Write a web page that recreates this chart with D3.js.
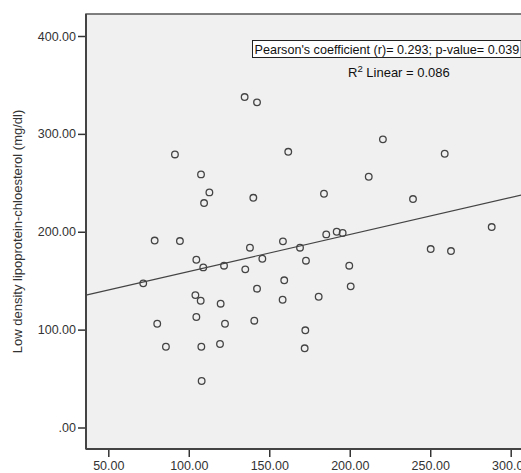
<!DOCTYPE html>
<html>
<head>
<meta charset="utf-8">
<script src="https://cdn.jsdelivr.net/npm/d3@7"></script>
<style>
  body { margin: 0; background: #fff; }
  svg text { font-family: "Liberation Sans", Arial, sans-serif; }
</style>
</head>
<body>
<div id="chart"></div>
<script>
// values
const cholesterolX = [91.4, 107.6, 112.8, 109.5, 78.8, 94.5, 134.7, 142.4, 161.8, 140.1,
  184.0, 211.8, 220.6, 185.4, 191.9, 195.6, 259.0, 239.3, 288.2, 104.7,
  109.0, 121.9, 71.7, 104.1, 107.4, 119.8, 104.7, 80.4, 122.5, 85.8,
  107.8, 119.4, 108.0, 138.0, 158.5, 169.1, 145.7, 135.1, 172.8, 199.7,
  159.3, 142.4, 200.6, 158.3, 180.7, 140.7, 172.4, 172.0, 250.3, 262.9];
const ldlY = [279.0, 258.6, 240.2, 229.3, 191.0, 190.5, 337.6, 332.2, 281.7, 234.7,
  238.8, 256.2, 294.4, 197.3, 200.0, 198.7, 279.7, 233.4, 204.8, 171.4,
  163.6, 165.3, 147.3, 135.3, 129.5, 126.5, 112.9, 106.0, 106.0, 82.5,
  82.5, 85.3, 47.5, 183.7, 190.2, 183.7, 172.4, 161.6, 170.4, 165.3,
  150.4, 141.8, 144.2, 130.5, 133.6, 109.1, 99.3, 80.9, 182.3, 180.3];
const xTicks = [50, 100, 150, 200, 250, 300];
const yTicks = [0, 100, 200, 300, 400];
const fitLine = { intercept: 121.6, slope: 0.378 };
const yTitle = 'Low density lipoprotein-chloesterol (mg/dl)';
const statsText = "Pearson's coefficient (r)= 0.293; p-value= 0.039";

const width = 521, height = 473;
const svg = d3.select('#chart').append('svg')
  .attr('width', width).attr('height', height);

const plot = { left: 86, top: 14, right: 545, bottom: 449 };

const x = d3.scaleLinear().domain([50, 300]).range([108.3, 510.7]);
const y = d3.scaleLinear().domain([0, 400]).range([427.5, 36]);

svg.append('rect')
  .attr('x', plot.left).attr('y', plot.top)
  .attr('width', plot.right - plot.left).attr('height', plot.bottom - plot.top)
  .attr('fill', '#f0f0f0')
  .attr('stroke', '#555').attr('stroke-width', 1.5);

const fmt = d => d === 0 ? '.00' : d3.format('.2f')(d);

function styleAxis(g) {
  g.select('.domain').remove();
  g.selectAll('.tick line').attr('stroke', '#333').attr('stroke-width', 1.5);
  g.selectAll('.tick text').attr('fill', '#333').attr('font-size', 12.5).attr('font-family', null);
}

svg.append('g')
  .attr('transform', `translate(${plot.left},0)`)
  .call(d3.axisLeft(y).tickValues(yTicks).tickFormat(fmt).tickSize(8).tickPadding(2))
  .call(styleAxis);

svg.append('g')
  .attr('transform', `translate(0,${plot.bottom})`)
  .call(d3.axisBottom(x).tickValues(xTicks).tickFormat(fmt).tickSize(8).tickPadding(4))
  .call(styleAxis);

// plot frame lines drawn on top of the ticks
svg.append('line')
  .attr('x1', plot.left).attr('x2', plot.left)
  .attr('y1', plot.top).attr('y2', plot.bottom)
  .attr('stroke', '#444').attr('stroke-width', 2);
svg.append('line')
  .attr('x1', plot.left).attr('x2', plot.right)
  .attr('y1', plot.bottom).attr('y2', plot.bottom)
  .attr('stroke', '#444').attr('stroke-width', 2);

const marks = svg.append('g');

// fit line across the plot area
const xmin = x.invert(plot.left), xmax = x.invert(plot.right);
marks.append('line')
  .attr('x1', x(xmin)).attr('y1', y(fitLine.intercept + fitLine.slope * xmin))
  .attr('x2', x(xmax)).attr('y2', y(fitLine.intercept + fitLine.slope * xmax))
  .attr('stroke', '#444').attr('stroke-width', 1.2);

marks.append('g')
  .selectAll('circle')
  .data(cholesterolX.map((v, i) => ({ x: v, y: ldlY[i] })))
  .enter().append('circle')
  .attr('cx', d => x(d.x))
  .attr('cy', d => y(d.y))
  .attr('r', 3.3)
  .attr('fill', 'none')
  .attr('stroke', '#444')
  .attr('stroke-width', 1.3);

// annotation box
const statsBox = svg.append('rect')
  .attr('x', 252.5).attr('y', 40.5)
  .attr('height', 17)
  .attr('fill', '#fff').attr('stroke', '#222').attr('stroke-width', 1);
const stats = svg.append('text')
  .attr('x', 254.5).attr('y', 53.8)
  .attr('font-size', 12.6).attr('fill', '#111')
  .text(statsText);
statsBox.attr('width', stats.node().getComputedTextLength() + 4);

const r2 = svg.append('text')
  .attr('x', 348).attr('y', 76.5)
  .attr('font-size', 13).attr('fill', '#111');
r2.append('tspan').text('R');
r2.append('tspan').attr('font-size', 9.5).attr('dy', -4.5).text('2');
r2.append('tspan').attr('dy', 4.5).text(' Linear = 0.086');

svg.append('text')
  .attr('transform', `translate(22,${(plot.top + plot.bottom) / 2}) rotate(-90)`)
  .attr('text-anchor', 'middle')
  .attr('font-size', 13).attr('fill', '#333')
  .text(yTitle);
</script>
</body>
</html>
